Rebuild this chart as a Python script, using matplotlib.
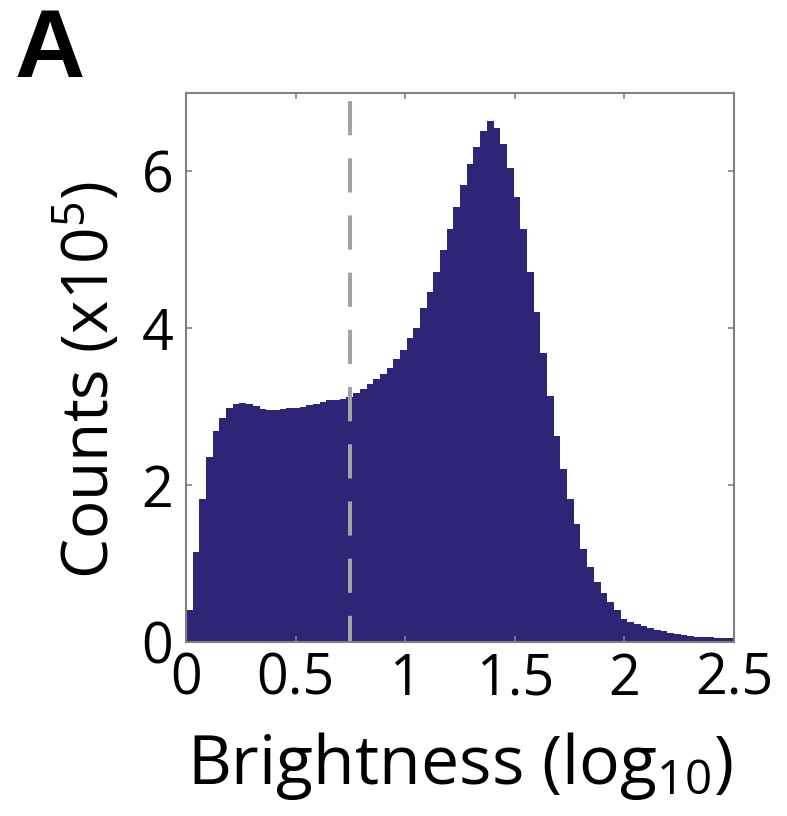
import matplotlib.pyplot as plt
import numpy as np

plt.rcParams['font.family'] = ['Open Sans', 'DejaVu Sans']
plt.rcParams['mathtext.default'] = 'regular'

# histogram of log10 brightness, counts in units of 1e5
bin_width = 0.0305
counts = [
    0.41, 1.15, 1.83, 2.36, 2.69, 2.86, 2.99, 3.04, 3.05, 3.04,
    3.01, 2.97, 2.96, 2.96, 2.97, 2.98, 2.99, 3.00, 3.02, 3.04,
    3.06, 3.08, 3.09, 3.10, 3.12, 3.17, 3.23, 3.29, 3.36, 3.42,
    3.50, 3.61, 3.72, 3.88, 4.01, 4.26, 4.46, 4.72, 5.00, 5.26,
    5.55, 5.83, 6.09, 6.31, 6.51, 6.64, 6.55, 6.35, 6.05, 5.68,
    5.26, 4.72, 4.21, 3.68, 3.14, 2.63, 2.20, 1.83, 1.50, 1.19,
    0.96, 0.77, 0.62, 0.51, 0.41, 0.30, 0.26, 0.23, 0.20, 0.18,
    0.15, 0.14, 0.12, 0.10, 0.09, 0.08, 0.07, 0.06, 0.06, 0.05,
    0.05, 0.05,
]
threshold = 0.75
xticks = [0, 0.5, 1, 1.5, 2, 2.5]
xticklabels = ['0', '0.5', '1', '1.5', '2', '2.5']
yticks = [0, 2, 4, 6]

edges = np.arange(len(counts) + 1) * bin_width

fig = plt.figure(figsize=(7.87, 8.16), dpi=100)
ax = fig.add_axes([0.2363, 0.2132, 0.6964, 0.6728])

# filled step outline so neighbouring bins merge into one solid area
ax.stairs(counts, edges, fill=True, color='#2f2577', linewidth=0)
ax.axvline(threshold, color='#a3a3a3', lw=2.9, linestyle=(2, (8.5, 5.7)))

ax.set_xlim(0, 2.5)
ax.set_ylim(0, 7)
ax.set_xticks(xticks)
ax.set_xticklabels(xticklabels)
ax.set_yticks(yticks)

for s in ax.spines.values():
    s.set_color('#808080')
    s.set_linewidth(1.5)
ax.tick_params(direction='in', length=4, width=1.2, color='#808080',
               top=True, right=True, labelsize=40)
ax.tick_params(axis='x', pad=7)
ax.tick_params(axis='y', pad=9)

ax.set_xlabel(r'Brightness (log$_{10}$)', fontsize=49)
ax.set_ylabel(r'Counts (x10$^{5}$)', fontsize=46)
ax.xaxis.set_label_coords(0.5, -0.161)
ax.yaxis.set_label_coords(-0.112, 0.478)

fig.text(0.019, 0.992, 'A', fontsize=70, fontweight='bold',
         family=['Liberation Sans', 'DejaVu Sans'], va='top', ha='left')

fig.savefig('out.png', dpi=100)
